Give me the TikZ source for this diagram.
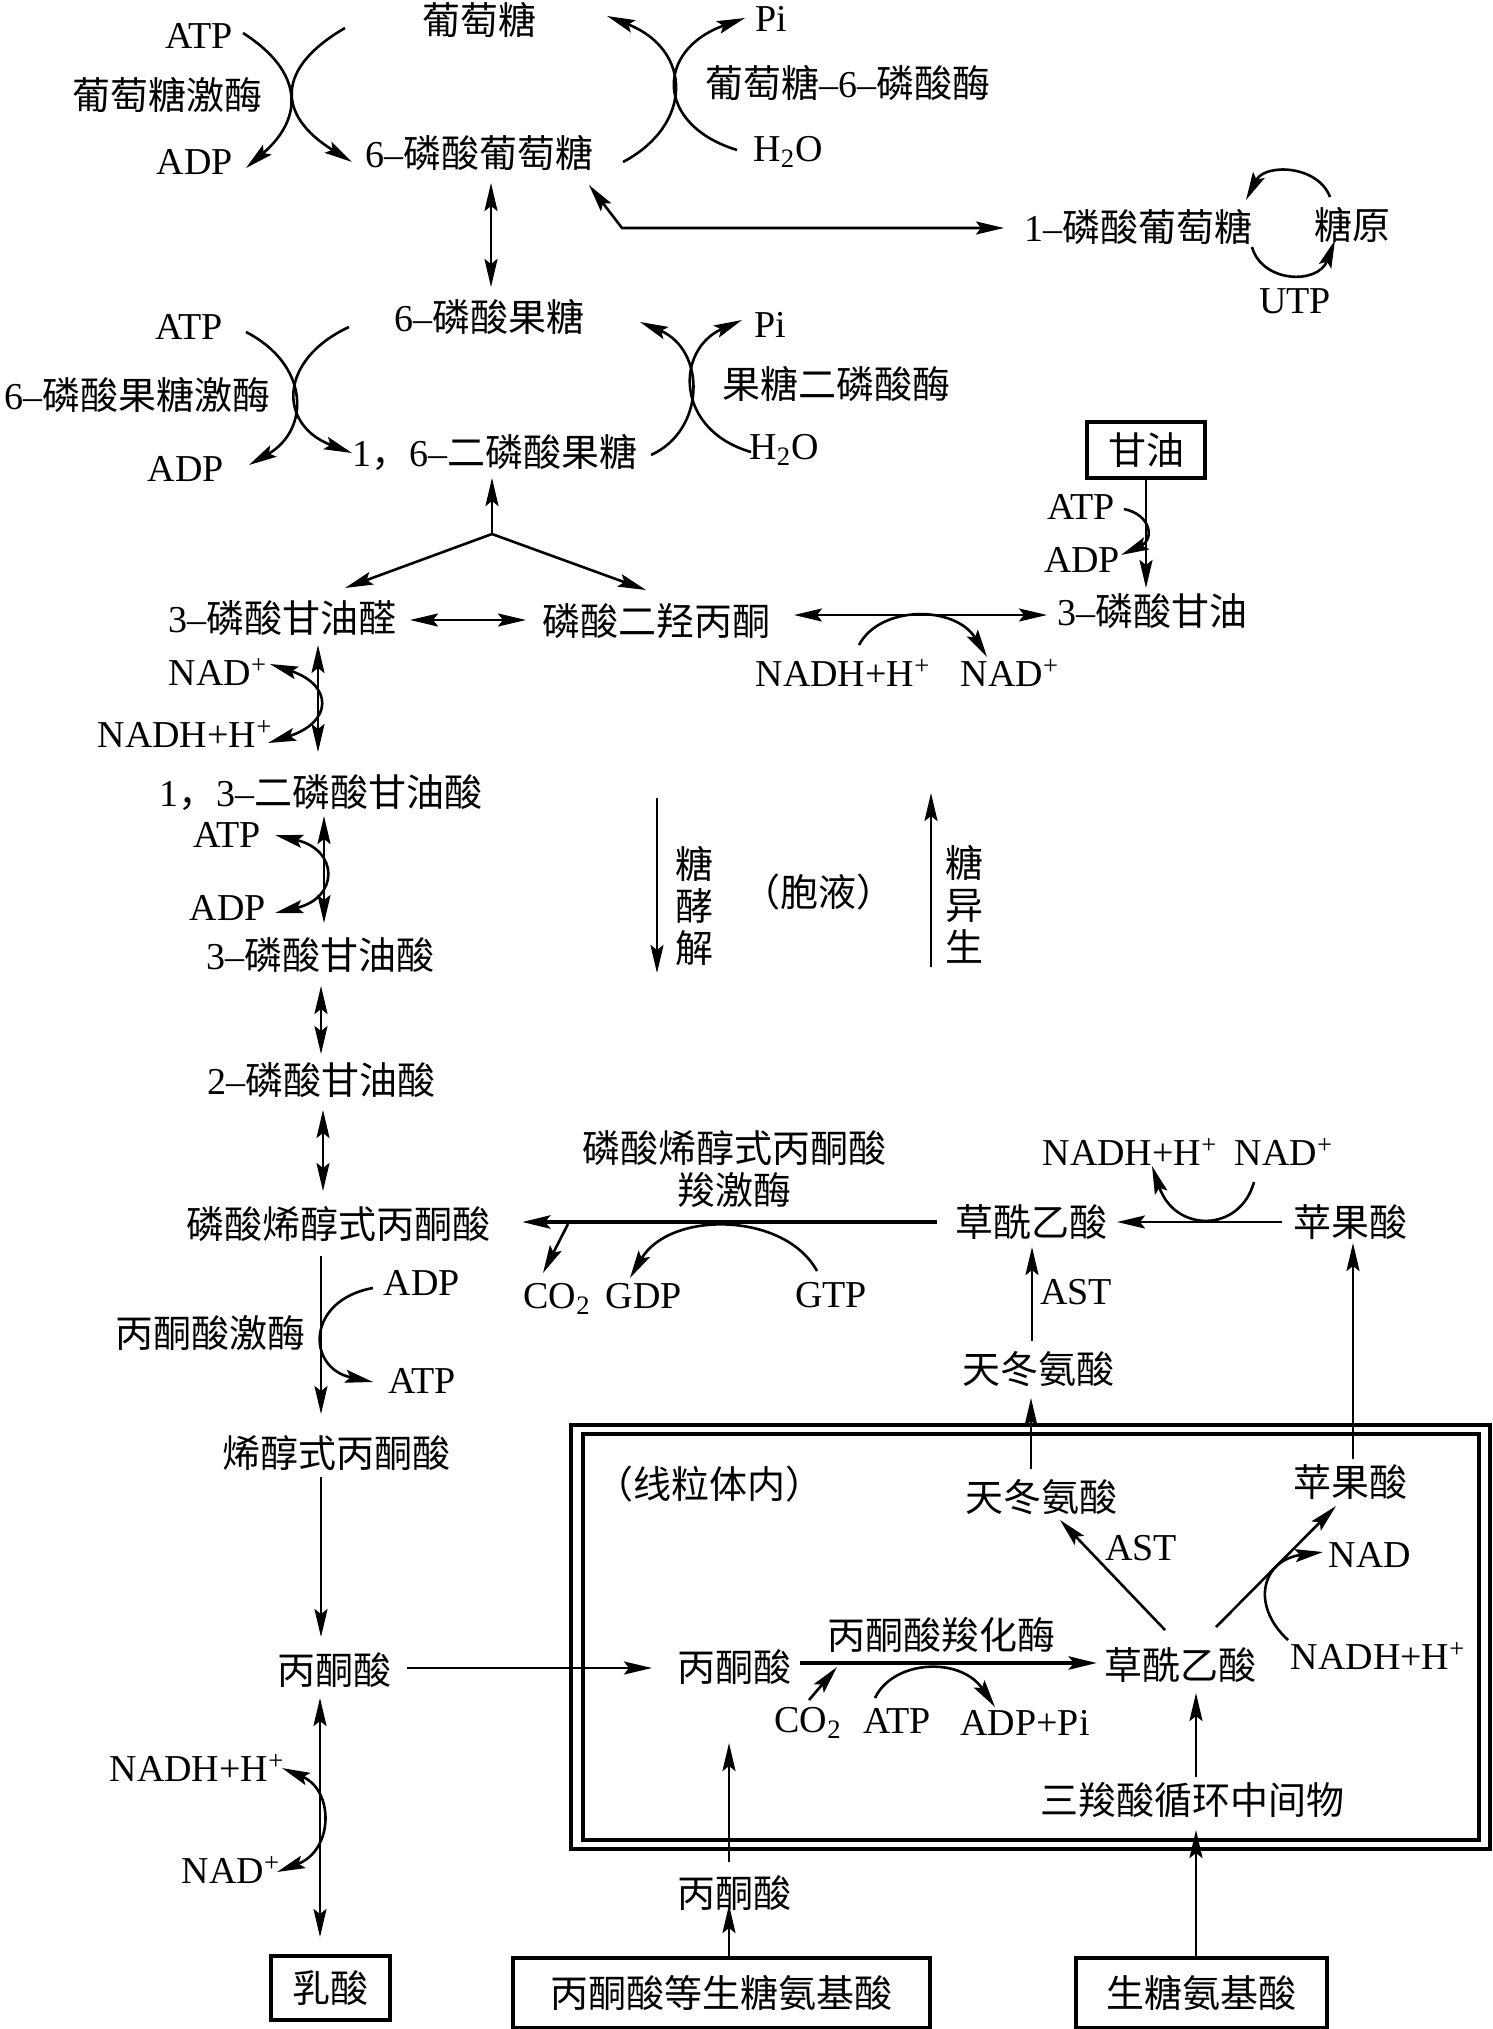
\documentclass[tikz,border=0pt]{standalone}
\usepackage{fontspec}
\setmainfont{Liberation Serif}
\newfontfamily\cjkfont{Noto Sans CJK SC}
\usetikzlibrary{arrows.meta}
\newcommand{\la}[1]{{\rmfamily #1}}
\begin{document}
\begin{tikzpicture}[x=0.5pt,y=-0.5pt,
  every node/.style={inner sep=0pt, outer sep=0pt, font=\fontsize{19}{21}\selectfont},
  zh/.style={font=\fontsize{19}{21}\selectfont\cjkfont},
  ln/.style={line width=1.3pt},
  arr/.style={ln, -{Stealth[length=14pt,width=6.5pt,inset=2.5pt]}},
  dbl/.style={ln, {Stealth[length=14pt,width=6.5pt,inset=2.5pt]}-{Stealth[length=14pt,width=6.5pt,inset=2.5pt]}},
  heavy/.style={arr, line width=2.3pt},
  boxed/.style={zh, draw, line width=1.6pt}
]
\useasboundingbox (0,0) rectangle (1493,2029);

% ---------- nodes ----------
\node[zh] (glc) at (479,20) {葡萄糖};
\node (atp1) at (199,36) {ATP};
\node[zh] (gk) at (167,95) {葡萄糖激酶};
\node (adp1) at (195,162) {ADP};
\node[zh] (g6p) at (479,153) {\la{6–}磷酸葡萄糖};
\node (pi1) at (771,19) {Pi};
\node[zh] (g6pase) at (848,83) {葡萄糖\la{–6–}磷酸酶};
\node (h2o1) at (788,152) {H\textsubscript{2}O};
\node[zh] (g1p) at (1138,227) {\la{1–}磷酸葡萄糖};
\node[zh] (glyco) at (1352,225) {糖原};
\node (utp) at (1295,301) {UTP};
\node[zh] (f6p) at (489,317) {\la{6–}磷酸果糖};
\node (atp2) at (189,327) {ATP};
\node (pi2) at (770,325) {Pi};
\node[zh] (fbpase) at (836,384) {果糖二磷酸酶};
\node[zh] (pfk) at (137,395) {\la{6–}磷酸果糖激酶};
\node (adp2) at (186,469) {ADP};
\node[zh] (fbp) at (495,452) {\la{1}，\la{6–}二磷酸果糖};
\node (h2o2) at (784,450) {H\textsubscript{2}O};
\node[boxed, minimum width=59pt, minimum height=28pt] (glyc) at (1146,450) {甘油};
\node (atp3) at (1081,507) {ATP};
\node (adp3) at (1082,560) {ADP};
\node[zh] (g3pol) at (1152,611) {\la{3–}磷酸甘油};
\node[zh] (gap) at (282,618) {\la{3–}磷酸甘油醛};
\node[zh] (dhap) at (656,621) {磷酸二羟丙酮};
\node (nadhm) at (843,673) {NADH+H\textsuperscript{+}};
\node (nadm) at (1010,673) {NAD\textsuperscript{+}};
\node (nadl) at (218,672) {NAD\textsuperscript{+}};
\node (nadhl) at (185,734) {NADH+H\textsuperscript{+}};
\node[zh] (bpg) at (321,793) {\la{1}，\la{3–}二磷酸甘油酸};
\node (atp4) at (227,835) {ATP};
\node (adp4) at (228,908) {ADP};
\node[zh] (pga3) at (320,955) {\la{3–}磷酸甘油酸};
\node[zh, align=center] (gly) at (694,906) {糖\\酵\\解};
\node[zh] (cyto) at (818,892) {（胞液）};
\node[zh, align=center] (gng) at (964,904) {糖\\异\\生};
\node[zh] (pga2) at (321,1080) {\la{2–}磷酸甘油酸};
\node[zh] (pep) at (338,1224) {磷酸烯醇式丙酮酸};
\node[zh, align=center] (pepck) at (734,1169) {磷酸烯醇式丙酮酸\\羧激酶};
\node[zh] (oaa1) at (1031,1222) {草酰乙酸};
\node[zh] (mal1) at (1350,1222) {苹果酸};
\node (nadhr) at (1130,1152) {NADH+H\textsuperscript{+}};
\node (nadr) at (1284,1152) {NAD\textsuperscript{+}};
\node (co21) at (557,1299) {CO\textsubscript{2}};
\node (gdp) at (644,1296) {GDP};
\node (gtp) at (831,1295) {GTP};
\node (adp5) at (422,1283) {ADP};
\node[zh] (pk) at (210,1333) {丙酮酸激酶};
\node (ast1) at (1076,1292) {AST};
\node[zh] (asp1) at (1038,1369) {天冬氨酸};
\node (atp5) at (422,1381) {ATP};
\node[zh] (enol) at (336,1453) {烯醇式丙酮酸};
\node[zh] (mito) at (709,1484) {（线粒体内）};
\node[zh] (asp2) at (1041,1497) {天冬氨酸};
\node[zh] (mal2) at (1350,1482) {苹果酸};
\node (ast2) at (1141,1548) {AST};
\node (nad2) at (1370,1555) {NAD};
\node[zh] (pyr1) at (334,1670) {丙酮酸};
\node[zh] (pyr2) at (734,1667) {丙酮酸};
\node[zh] (pc) at (941,1635) {丙酮酸羧化酶};
\node[zh] (oaa2) at (1180,1665) {草酰乙酸};
\node (nadh2) at (1378,1656) {NADH+H\textsuperscript{+}};
\node (co22) at (808,1723) {CO\textsubscript{2}};
\node (atp6) at (897,1721) {ATP};
\node (adppi) at (1025,1723) {ADP+Pi};
\node[zh] (tca) at (1192,1800) {三羧酸循环中间物};
\node (nadh3) at (197,1768) {NADH+H\textsuperscript{+}};
\node (nad3) at (231,1870) {NAD\textsuperscript{+}};
\node[zh] (pyr3) at (734,1893) {丙酮酸};
\node[boxed, minimum width=59.5pt, minimum height=32pt] (lac) at (330.5,1988) {乳酸};
\node[boxed, minimum width=208.5pt, minimum height=35pt] (aa1) at (721.5,1993) {丙酮酸等生糖氨基酸};
\node[boxed, minimum width=125.5pt, minimum height=35pt] (aa2) at (1201.5,1993) {生糖氨基酸};

% ---------- mitochondrion frame ----------
\draw[line width=1.6pt] (571,1425) rectangle (1490,1849);
\draw[line width=1.6pt] (583,1434) rectangle (1479,1840);

% ---------- hexose part ----------
\draw[arr] (243,33) .. controls (304,72) and (304,118) .. (246,168);
\draw[arr] (345,28) .. controls (276,68) and (276,115) .. (352,162);
\draw[arr] (623,162) .. controls (693,125) and (693,50) .. (607,16);
\draw[arr] (737,150) .. controls (655,125) and (655,50) .. (745,18);
\draw[dbl] (491,183) -- (491,287);
\draw[dbl] (589,185) -- (622,228) -- (1004,228);
\draw[arr] (1330,197) .. controls (1318,165) and (1265,163) .. (1246,200);
\draw[arr] (1252,247) .. controls (1262,283) and (1318,285) .. (1335,240);
\draw[arr] (246,332) .. controls (310,365) and (310,430) .. (249,465);
\draw[arr] (349,327) .. controls (278,360) and (278,425) .. (352,453);
\draw[arr] (651,455) .. controls (706,430) and (706,350) .. (640,322);
\draw[arr] (751,452) .. controls (675,430) and (675,350) .. (742,320);

% ---------- triose part ----------
\coordinate (split) at (492,534);
\draw[arr] (split) -- (492,478);
\draw[arr] (split) -- (345,588);
\draw[arr] (split) -- (646,590);
\draw[dbl] (410,620) -- (526,620);
\draw[dbl] (794,615) -- (1047,615);
\draw[arr] (859,645) .. controls (880,605) and (955,605) .. (987,657);
\draw[arr] (glyc.south) -- (1146,588);
\draw[arr] (1124,509) .. controls (1152,515) and (1154,540) .. (1121,555);

% ---------- left column ----------
\draw[dbl] (318,645) -- (318,752);
\draw[dbl] (270,664) .. controls (333,685) and (333,722) .. (268,743);
\draw[dbl] (324,816) -- (324,923);
\draw[dbl] (275,835) .. controls (339,850) and (339,898) .. (275,913);
\draw[dbl] (321,986) -- (321,1054);
\draw[dbl] (323,1110) -- (323,1191);
\draw[arr] (321,1256) -- (321,1414);
\draw[arr] (373,1288) .. controls (306,1300) and (306,1368) .. (373,1382);
\draw[arr] (321,1477) -- (321,1637);
\draw[dbl] (320,1698) -- (320,1937);
\draw[dbl] (282,1768) .. controls (334,1790) and (334,1850) .. (277,1872);

% ---------- glycolysis / gluconeogenesis markers ----------
\draw[arr] (657,798) -- (657,973);
\draw[arr] (931,967) -- (931,793);

% ---------- PEPCK ----------
\draw[heavy] (937,1222) -- (522,1222);
\draw[arr] (568,1224) -- (543,1273);
\draw[arr] (817,1271) .. controls (785,1212) and (670,1210) .. (630,1278);
\draw[arr] (1282,1222) -- (1117,1222);
\draw[arr] (1254,1182) .. controls (1240,1233) and (1175,1233) .. (1152,1166);
\draw[arr] (1032,1341) -- (1032,1247);

% ---------- mitochondrion ----------
\draw[arr] (407,1668) -- (652,1668);
\draw[heavy] (800,1663) -- (1097,1663);
\draw[arr] (809,1700) -- (837,1667);
\draw[arr] (875,1698) .. controls (893,1660) and (960,1656) .. (995,1707);
\draw[arr] (1165,1630) -- (1060,1520);
\draw[arr] (1216,1627) -- (1336,1506);
\draw[arr] (1288,1640) .. controls (1250,1605) and (1262,1560) .. (1323,1552);
\draw[arr] (1031,1469) -- (1031,1398);
\draw[arr] (1353,1459) -- (1353,1243);
\draw[arr] (1196,1777) -- (1196,1693);
\draw[arr] (1196,1958) -- (1196,1830);
\draw[arr] (729,1862) -- (729,1743);
\draw[arr] (729,1958) -- (729,1905);
\end{tikzpicture}
\end{document}
